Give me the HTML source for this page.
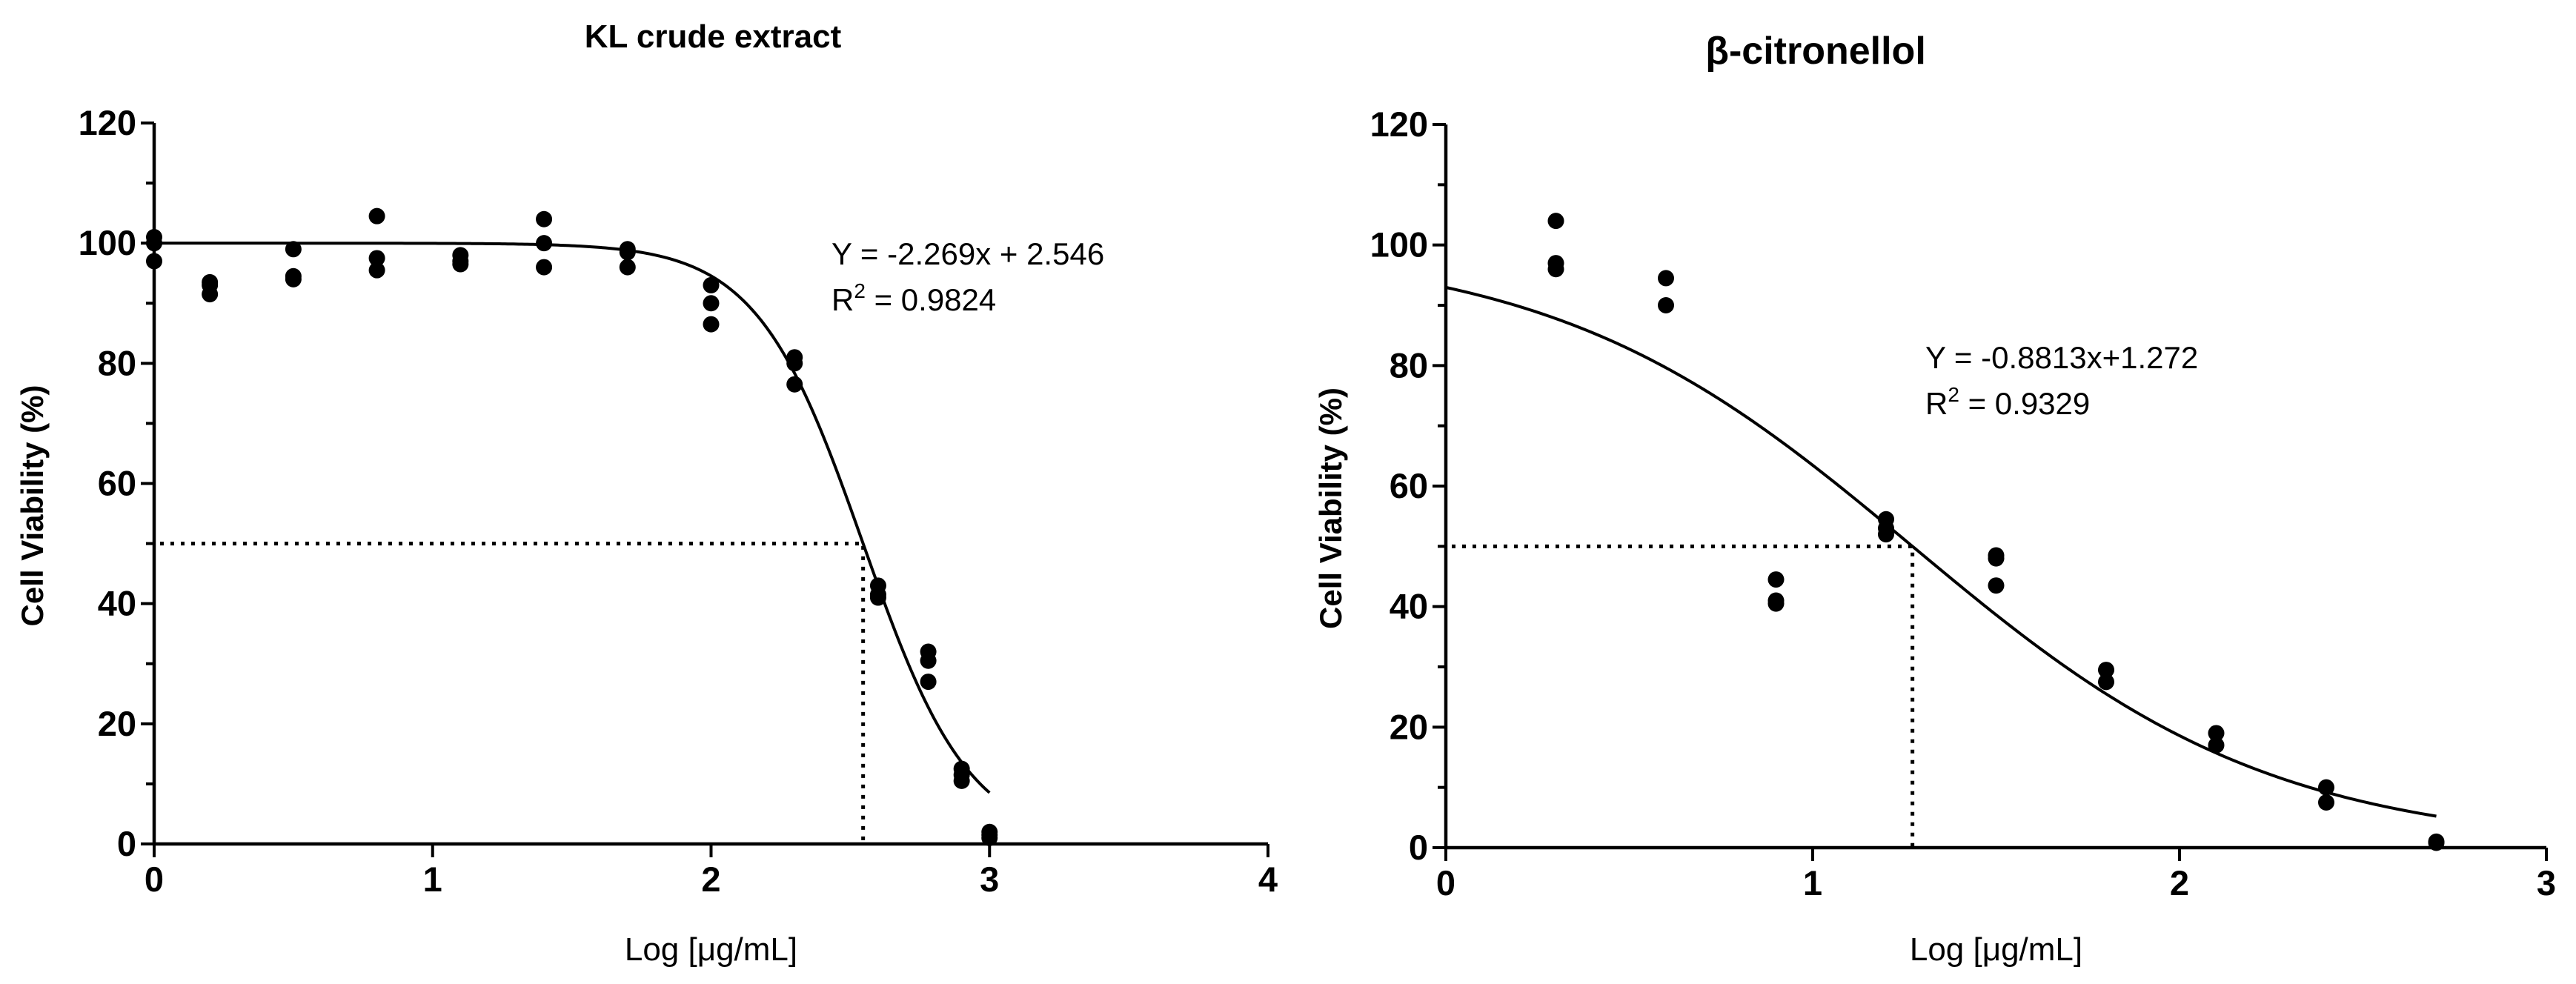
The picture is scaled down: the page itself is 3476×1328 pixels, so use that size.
<!DOCTYPE html>
<html><head><meta charset="utf-8"><style>
html,body{margin:0;padding:0;background:#fff;}
svg{display:block;font-family:"Liberation Sans",Arial,sans-serif;}
</style></head><body>
<svg id="chart" width="3476" height="1328" viewBox="0 0 3476 1328" xmlns="http://www.w3.org/2000/svg"></svg>
<script>
// Left panel data
const klX = [0,0,0,0.2,0.2,0.2,0.5,0.5,0.5,0.8,0.8,0.8,1.1,1.1,1.1,1.4,1.4,1.4,1.7,1.7,1.7,2.0,2.0,2.0,2.3,2.3,2.3,2.6,2.6,2.6,2.78,2.78,2.78,2.9,2.9,2.9,3.0,3.0,3.0];
const klY = [101,100,97,93.5,93,91.5,99,94.5,94,104.5,97.5,95.5,98,97,96.5,104,100,96,99,98.5,96,93,90,86.5,81,80,76.5,43,41.5,41,32,30.5,27,12.5,11.5,10.5,2,1.5,1];
const klFit = [2.546, 2.269]; // logIC50, hill
const klXTicks = [0,1,2,3,4];
// Right panel data
const bcX = [0.3,0.3,0.3,0.6,0.6,0.9,0.9,0.9,1.2,1.2,1.2,1.5,1.5,1.5,1.8,1.8,2.1,2.1,2.4,2.4,2.7,2.7];
const bcY = [104,97,96,94.5,90,44.5,41,40.5,54.5,53,52,48.5,48,43.5,29.5,27.5,19,17,10,7.5,1,0.8];
const bcFit = [1.272, 0.8813];
const bcXTicks = [0,1,2,3];
const yTicks = [0,20,40,60,80,100,120];

const NS = "http://www.w3.org/2000/svg";
const svg = document.getElementById('chart');
function mk(tag, attrs, parent){const e=document.createElementNS(NS,tag);for(const k in attrs)e.setAttribute(k,attrs[k]);(parent||svg).appendChild(e);return e;}

function panel(cfg){
  const g = mk('g',{});
  
  
  const sx = v => cfg.x0 + v / cfg.xmax * (cfg.x1 - cfg.x0);
  const sy = v => cfg.y0 - v / 120 * (cfg.y0 - cfg.y120);
  const t = mk('text',{x:cfg.titleX,y:cfg.titleY,'text-anchor':'middle','font-weight':'bold','font-size':cfg.titleSize},g);
  t.textContent = cfg.title;
  
  
  const ax = mk('path',{d:`M${sx(0)},${sy(120)} L${sx(0)},${sy(0)} L${sx(cfg.xmax)},${sy(0)}`,stroke:'#000','stroke-width':4.5,fill:'none'},g);
  
  
  for(let v=0; v<=120; v+=10){
    const major = v%20===0;
    mk('line',{x1:sx(0)-(major?18:11),x2:sx(0),y1:sy(v),y2:sy(v),stroke:'#000','stroke-width':4},g);
  }
  yTicks.forEach(v=>{
    const tl = mk('text',{x:sx(0)-24,y:sy(v)+16,'text-anchor':'end','font-weight':'bold','font-size':47},g);
    tl.textContent = v;
    
    
  });
  cfg.xTicks.forEach(v=>{
    mk('line',{x1:sx(v),x2:sx(v),y1:sy(0),y2:sy(0)+18,stroke:'#000','stroke-width':4},g);
    const tl = mk('text',{x:sx(v),y:sy(0)+64,'text-anchor':'middle','font-weight':'bold','font-size':47},g);
    tl.textContent = v;
    
    
  });
  const xl = mk('text',{x:(sx(0)+sx(cfg.xmax))/2,y:1296,'text-anchor':'middle','font-size':44},g);
  xl.textContent = 'Log [μg/mL]';
  
  
  const ycx = cfg.ylabX, ycy = (sy(0)+sy(120))/2+30;
  const yl = mk('text',{x:ycx,y:ycy,'text-anchor':'middle','font-weight':'bold','font-size':42,transform:`rotate(-90 ${ycx} ${ycy})`},g);
  yl.textContent = 'Cell Viability (%)';
  
  
  const ic = cfg.fit[0];
  const dl = mk('path',{d:`M${sx(0)+8},${sy(50)} L${sx(ic)},${sy(50)} L${sx(ic)},${sy(0)}`,stroke:'#000','stroke-width':5,fill:'none','stroke-dasharray':'5 9'},g);
  
  
  let d='';
  for(let i=0;i<=300;i++){
    const x = cfg.curveEnd*i/300;
    const y = 100/(1+Math.pow(10,(x-ic)*cfg.fit[1]));
    d += (i?'L':'M')+sx(x).toFixed(2)+','+sy(y).toFixed(2);
  }
  const c = mk('path',{d:d,stroke:'#000','stroke-width':4,fill:'none'},g);
  
  
  cfg.xs.forEach((x,i)=>{
    const p = mk('circle',{cx:sx(x),cy:sy(cfg.ys[i]),r:11,fill:'#000'},g);
    
    
  });
  const e1 = mk('text',{x:cfg.eqX,y:cfg.eqY,'font-size':42},g);
  e1.textContent = cfg.eq;
  
  
  const e2 = mk('text',{x:cfg.eqX,y:cfg.eqY+62,'font-size':42},g);
  e2.innerHTML = 'R<tspan dy="-17" font-size="28">2</tspan><tspan dy="17"> = '+cfg.r2+'</tspan>';
  
  
}

panel({name:'kl-crude-extract-panel',title:'KL crude extract',titleX:962,titleY:64,titleSize:44,
  x0:208,x1:1711,xmax:4,y0:1139,y120:166,xTicks:klXTicks,xs:klX,ys:klY,fit:klFit,curveEnd:3,
  ylabX:58,eq:'Y = -2.269x + 2.546',r2:'0.9824',eqX:1122,eqY:357});
panel({name:'beta-citronellol-panel',title:'β-citronellol',titleX:2450,titleY:86,titleSize:52,
  x0:1951,x1:3436,xmax:3,y0:1144,y120:168,xTicks:bcXTicks,xs:bcX,ys:bcY,fit:bcFit,curveEnd:2.7,
  ylabX:1810,eq:'Y = -0.8813x+1.272',r2:'0.9329',eqX:2598,eqY:497});
</script>
</body></html>
